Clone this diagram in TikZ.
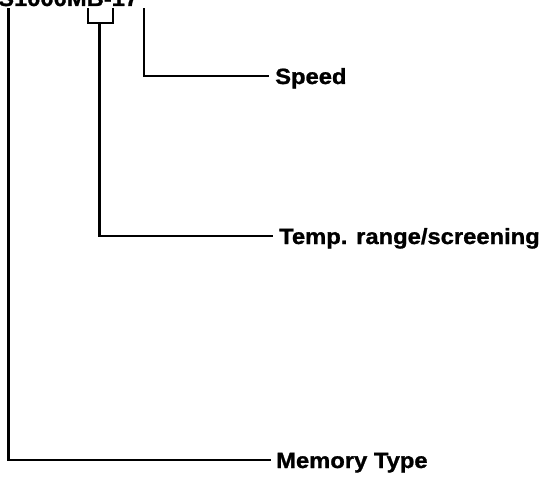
\documentclass[tikz,border=0pt]{standalone}
\usepackage{fontspec}
\setmainfont{Liberation Sans}
\newfontfamily\lblfont[FakeStretch=1.08,BoldFeatures={FakeBold=1.2}]{Liberation Sans}
\begin{document}
\begin{tikzpicture}[x=1pt,y=-1pt,
  conn/.style={line width=2.6pt, line cap=rect},
  lbl/.style={anchor=west, inner sep=0pt, text height=16pt, text depth=0pt,
    font=\lblfont\bfseries\fontsize{22}{24}\selectfont}]
\useasboundingbox (0,0) rectangle (551,478);
\begin{scope}
\clip (0,0) rectangle (551,478);
\node[anchor=base west, inner sep=0pt, font=\lblfont\bfseries\fontsize{22}{24}\selectfont] (part) at (-2,6) {S1000MB-17};
\end{scope}
% labels
\node[lbl] (speed) at (275,76) {Speed};
\node[lbl] (temp) at (279,236) {Temp. range/screening};
\node[lbl] (mem) at (276,460) {Memory Type};
% connector tops
\coordinate (mtop) at (8.5,9);
\coordinate (stop) at (144,9);
\coordinate (bl) at (88,9);
\coordinate (br) at (113,9);
\coordinate (stem) at (99.5,23);
\draw[conn] (bl) -- (88,23) -- (113,23) -- (br);
\draw[conn] (stem) |- ([xshift=-7pt]temp.west);
\draw[conn] (stop) |- ([xshift=-7pt]speed.west);
\draw[conn] (mtop) |- ([xshift=-6pt]mem.west);
\end{tikzpicture}
\end{document}
